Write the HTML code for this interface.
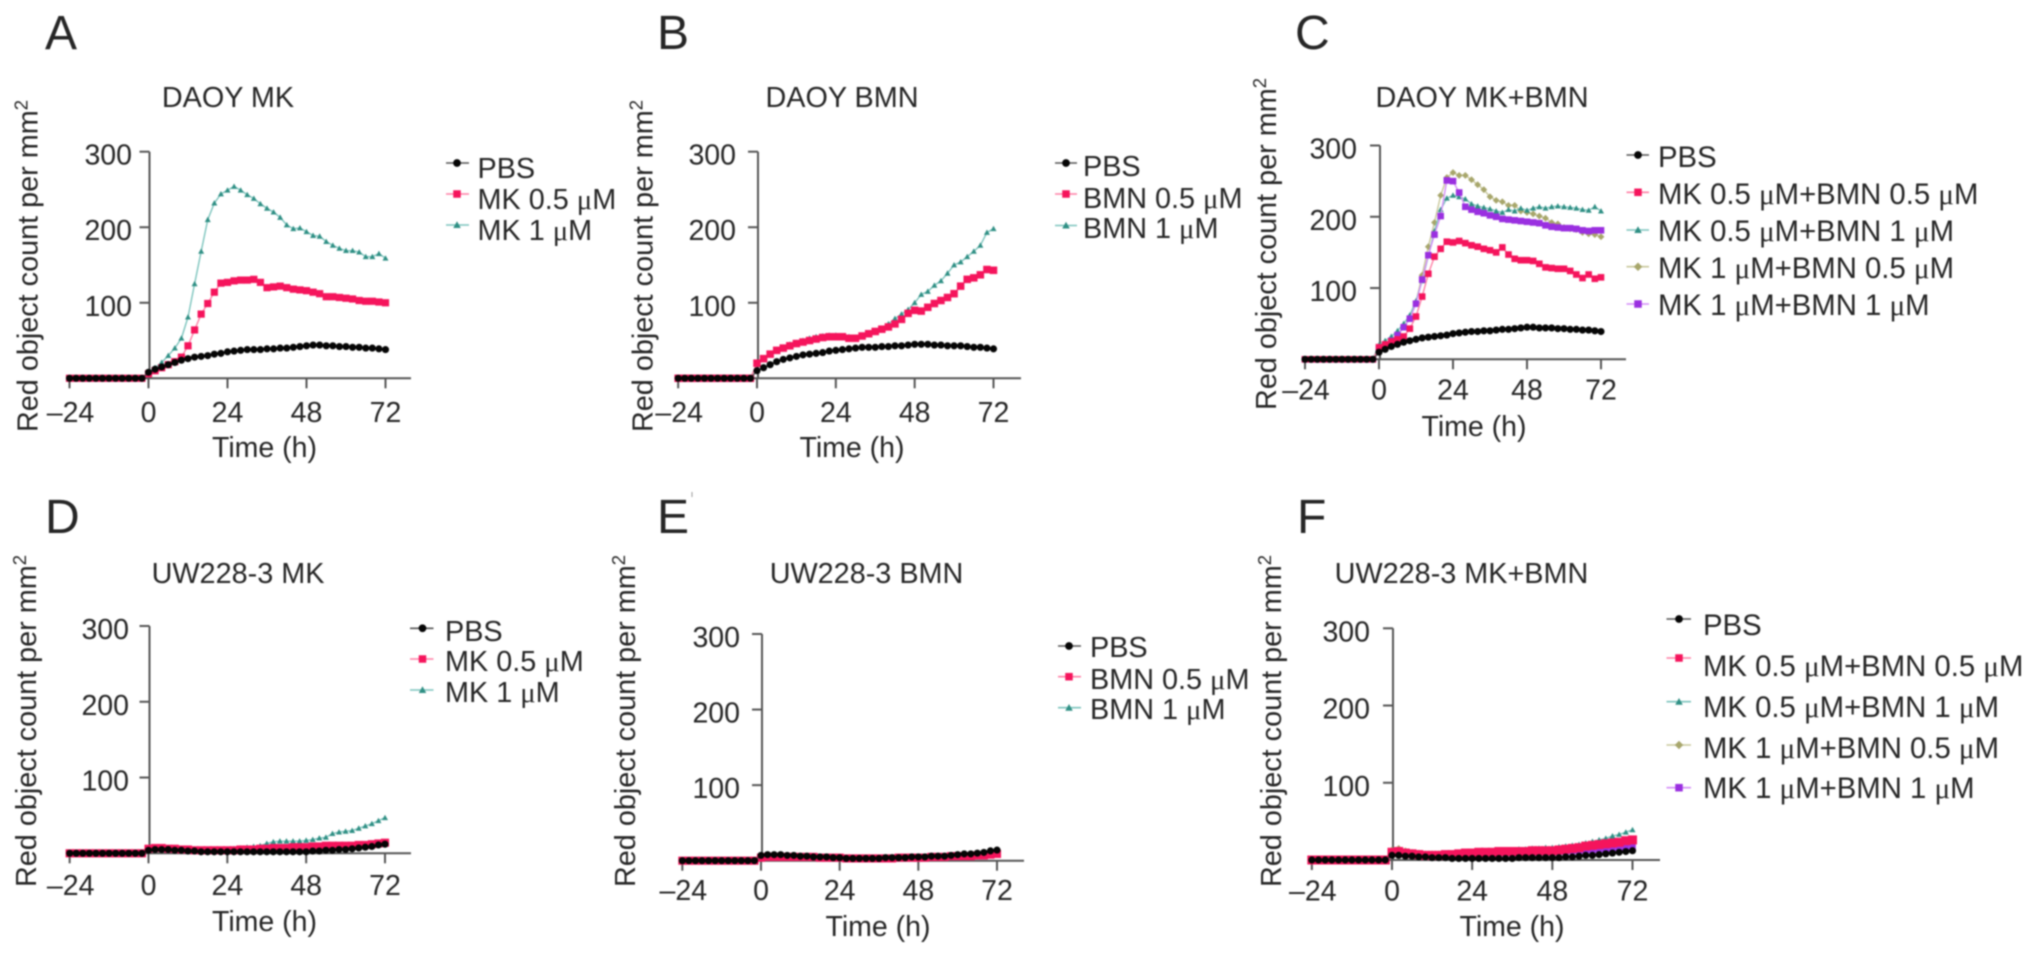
<!DOCTYPE html>
<html lang="en">
<head>
<meta charset="utf-8">
<title>Red object count panels</title>
<style>
html,body{margin:0;padding:0;background:#fff;width:2032px;height:955px;overflow:hidden}
svg{display:block;filter:blur(0.8px)}
text{font-family:"Liberation Sans",sans-serif;fill:#262626}
</style>
</head>
<body>
<svg id="figure" xmlns="http://www.w3.org/2000/svg" width="2032" height="955" viewBox="0 0 2032 955"></svg>
<script>
const hours = [-24,-22,-20,-18,-16,-14,-12,-10,-8,-6,-4,-2,0,2,4,6,8,10,12,14,16,18,20,22,24,26,28,30,32,34,36,38,40,42,44,46,48,50,52,54,56,58,60,62,64,66,68,70,72];
const xTickValues = [-24,0,24,48,72];
const yTickValues = [100,200,300];

const aPbs = [0,0,0,0,0,0,0,0,0,0,0,0,8,12,15,18,21,24,26,28,29,30,32,33,35,36,37,38,38,38,39,39,40,40,41,42,43,44,44,43,43,42,42,41,41,40,40,39,38];
const aMk05 = [0,0,0,0,0,0,0,0,0,0,0,0,6,10,14,18,22,28,43,64,85,99,114,126,127,129,130,130,131,127,120,121,122,120,118,117,116,114,112,108,108,107,106,105,103,102,102,101,100];
const aMk1 = [0,0,0,0,0,0,0,0,0,0,0,0,8,14,21,30,40,53,81,125,168,210,232,244,249,254,249,243,238,231,225,220,213,203,198,199,194,189,188,181,176,172,169,169,167,161,161,165,159];

const bPbs = [0,0,0,0,0,0,0,0,0,0,0,0,10,14,18,22,25,27,29,31,32,33,34,36,37,38,39,40,41,41,41,42,42,43,43,44,45,45,45,44,44,43,43,43,42,41,41,40,39];
const bBmn05 = [0,0,0,0,0,0,0,0,0,0,0,0,20,26,32,37,40,43,46,48,50,52,54,55,55,55,53,53,56,59,62,65,68,72,78,86,90,89,94,99,103,107,112,122,131,133,137,144,143];
const bBmn1 = [0,0,0,0,0,0,0,0,0,0,0,0,19,25,31,37,41,45,47,50,53,55,56,57,57,56,55,54,57,60,63,66,72,79,85,91,100,111,115,123,129,139,150,154,161,168,176,193,198];

const cPbs = [0,0,0,0,0,0,0,0,0,0,0,0,10,14,18,21,24,26,28,30,31,32,33,34,36,37,38,39,39,40,40,41,42,42,43,44,45,45,44,44,44,43,43,42,42,41,41,40,39];
const cMk05Bmn05 = [0,0,0,0,0,0,0,0,0,0,0,0,17,21,25,28,32,43,60,88,120,144,155,165,164,166,163,160,158,155,153,150,157,147,141,139,139,138,134,129,128,127,127,124,119,114,119,113,115];
const cMk05Bmn1 = [0,0,0,0,0,0,0,0,0,0,0,0,20,26,32,40,50,62,82,110,145,180,210,226,230,228,225,218,215,213,211,208,206,210,208,212,209,212,214,212,214,215,214,213,212,210,209,214,208];
const cMk1Bmn05 = [0,0,0,0,0,0,0,0,0,0,0,0,15,20,26,34,45,58,80,118,158,192,230,255,262,258,258,252,245,238,228,223,221,216,216,208,206,204,201,198,192,190,185,183,182,178,176,175,172];
const cMk1Bmn1 = [0,0,0,0,0,0,0,0,0,0,0,0,15,20,26,34,45,57,78,112,146,175,201,251,250,234,214,210,207,205,202,200,197,196,195,194,193,192,191,188,186,185,184,184,183,181,180,181,181];

const dPbs = [0,0,0,0,0,0,0,0,0,0,0,0,4,5,5,5,4,4,3,3,2,2,2,2,2,2,2,2,2,2,2,2,2,2,2,2,2,3,3,4,4,5,5,6,7,8,9,11,12];
const dMk05 = [0,0,0,0,0,0,0,0,0,0,0,0,6,7,7,6,6,5,5,4,4,4,4,4,4,4,5,5,5,6,6,7,7,7,8,8,8,9,9,10,10,10,10,10,11,11,12,13,14];
const dMk1 = [0,0,0,0,0,0,0,0,0,0,0,0,5,6,6,5,5,5,4,4,4,4,4,5,5,6,7,8,9,10,13,15,16,16,16,16,17,18,20,21,26,28,29,30,33,36,39,43,47];

const ePbs = [0,0,0,0,0,0,0,0,0,0,0,0,7,8,8,8,7,7,6,6,5,5,5,4,4,3,3,3,3,3,3,4,4,4,4,5,5,5,6,6,6,7,8,9,9,10,11,13,14];
const eBmn05 = [0,0,0,0,0,0,0,0,0,0,0,0,4,5,5,5,5,5,5,5,5,4,4,4,4,3,3,3,3,3,3,3,3,4,4,4,4,4,5,5,5,6,6,6,6,7,7,8,9];
const eBmn1 = [0,0,0,0,0,0,0,0,0,0,0,0,4,5,4,4,4,4,4,4,4,4,4,3,3,3,3,3,3,3,3,3,3,3,4,4,4,4,4,4,5,5,5,5,6,6,6,7,8];

const fPbs = [0,0,0,0,0,0,0,0,0,0,0,0,6,6,5,5,4,4,3,3,3,2,2,2,2,2,2,2,2,2,2,3,3,3,3,3,3,3,4,4,5,6,6,7,8,9,10,11,12];
const fMk05Bmn05 = [0,0,0,0,0,0,0,0,0,0,0,0,10,11,9,8,7,6,6,6,7,7,8,9,9,10,10,10,11,11,11,11,11,12,12,12,12,13,14,15,16,18,19,20,21,22,23,25,26];
const fMk05Bmn1 = [0,0,0,0,0,0,0,0,0,0,0,0,10,11,10,9,8,7,7,7,8,8,9,10,11,11,12,12,13,13,13,14,14,15,15,16,16,17,18,19,20,22,24,26,28,31,33,36,39];
const fMk1Bmn05 = [0,0,0,0,0,0,0,0,0,0,0,0,13,15,12,10,9,8,8,8,8,8,9,9,9,10,10,10,10,10,10,11,11,11,11,11,11,12,12,13,13,14,14,15,15,16,17,19,20];
const fMk1Bmn1 = [0,0,0,0,0,0,0,0,0,0,0,0,9,10,9,8,7,6,6,6,6,7,7,8,8,8,9,9,9,9,9,10,10,10,10,10,10,11,11,12,12,13,13,14,14,15,16,17,18];

const PBS = {key:'pbs',color:'#050505',line:'#555555',shape:'circle',k:1.15};
const PINK = {key:'pink',color:'#f5145c',line:'#ff7fa5',shape:'square',k:1.15};
const TEAL = {key:'teal',color:'#2f8f84',line:'#7cc4bd',shape:'triangle',k:1};
const OLIVE = {key:'olive',color:'#a7a66b',line:'#c8c79a',shape:'diamond',k:1};
const PURPLE = {key:'purple',color:'#9a2fe0',line:'#d48cf8',shape:'square',k:1.1};

const panels = [
 {id:'a',letter:'A',lx:45,ly:49,title:'DAOY MK',tx:228,ty:107,x0:148.5,x72:385.5,y0:378.3,y300:151.7,xEnd:411,yLabelX:132,xLabelY:422,timeX:264.5,timeY:457,yTitleX:37.5,yTitleY:432,pinkK:1.2,
  series:[{s:TEAL,v:aMk1},{s:PINK,v:aMk05},{s:PBS,v:aPbs}],
  legend:{mx:457,l1:446,l2:469,tx:477.5,fs:28.8,rows:[[PBS,'PBS',163,178],[PINK,'MK 0.5 μM',194,209],[TEAL,'MK 1 μM',225,240]]}},
 {id:'b',letter:'B',lx:657,ly:49,title:'DAOY BMN',tx:842,ty:107,x0:757,x72:993.5,y0:378.3,y300:151.7,xEnd:1021,yLabelX:736,xLabelY:422,timeX:852,timeY:457,yTitleX:652.5,yTitleY:432,pinkK:1.25,
  series:[{s:TEAL,v:bBmn1},{s:PINK,v:bBmn05},{s:PBS,v:bPbs}],
  legend:{mx:1066,l1:1055,l2:1077,tx:1083,fs:28.8,rows:[[PBS,'PBS',163,176],[PINK,'BMN 0.5 μM',194,208],[TEAL,'BMN 1 μM',225.5,238]]}},
 {id:'c',letter:'C',lx:1295,ly:49,title:'DAOY MK+BMN',tx:1482,ty:107,x0:1379,x72:1601,y0:359.3,y300:145.5,xEnd:1626,yLabelX:1357,xLabelY:399.5,timeX:1474,timeY:436,yTitleX:1276,yTitleY:410,pinkK:1.1,
  series:[{s:OLIVE,v:cMk1Bmn05},{s:TEAL,v:cMk05Bmn1},{s:PURPLE,v:cMk1Bmn1},{s:PINK,v:cMk05Bmn05},{s:PBS,v:cPbs}],
  legend:{mx:1638,l1:1626.5,l2:1649,tx:1658,fs:29.3,rows:[[PBS,'PBS',155,167],[PINK,'MK 0.5 μM+BMN 0.5 μM',192.3,204],[TEAL,'MK 0.5 μM+BMN 1 μM',230,241],[OLIVE,'MK 1 μM+BMN 0.5 μM',266.7,278],[PURPLE,'MK 1 μM+BMN 1 μM',304,315]]}},
 {id:'d',letter:'D',lx:45,ly:533,title:'UW228-3 MK',tx:238,ty:583,x0:148.5,x72:385,y0:853.3,y300:626,xEnd:411,yLabelX:129,xLabelY:895,timeX:264.5,timeY:931,yTitleX:36,yTitleY:887,pinkK:1.35,
  series:[{s:TEAL,v:dMk1},{s:PINK,v:dMk05},{s:PBS,v:dPbs}],
  legend:{mx:422.5,l1:410,l2:433.5,tx:445,fs:28.8,rows:[[PBS,'PBS',628.3,641],[PINK,'MK 0.5 μM',659,671],[TEAL,'MK 1 μM',690,702]]}},
 {id:'e',letter:'E',lx:657,ly:533,title:'UW228-3 BMN',tx:866.5,ty:583,x0:761,x72:997,y0:860.7,y300:634,xEnd:1024,yLabelX:740,xLabelY:900,timeX:878,timeY:936,yTitleX:635,yTitleY:887,pinkK:1.35,
  series:[{s:TEAL,v:eBmn1},{s:PINK,v:eBmn05},{s:PBS,v:ePbs}],
  legend:{mx:1069,l1:1058,l2:1081,tx:1090,fs:28.8,rows:[[PBS,'PBS',646,657],[PINK,'BMN 0.5 μM',676.7,689],[TEAL,'BMN 1 μM',707.7,719]]}},
 {id:'f',letter:'F',lx:1297,ly:533,title:'UW228-3 MK+BMN',tx:1461.5,ty:583,x0:1392,x72:1632.5,y0:860,y300:628.3,xEnd:1660,yLabelX:1370,xLabelY:900.5,timeX:1512,timeY:936,yTitleX:1281,yTitleY:887,pinkK:1.5,
  series:[{s:OLIVE,v:fMk1Bmn05},{s:TEAL,v:fMk05Bmn1},{s:PURPLE,v:fMk1Bmn1},{s:PINK,v:fMk05Bmn05},{s:PBS,v:fPbs}],
  legend:{mx:1679,l1:1666.5,l2:1691,tx:1703,fs:29.3,rows:[[PBS,'PBS',619,635],[PINK,'MK 0.5 μM+BMN 0.5 μM',658,676],[TEAL,'MK 0.5 μM+BMN 1 μM',701.7,717],[OLIVE,'MK 1 μM+BMN 0.5 μM',745,758],[PURPLE,'MK 1 μM+BMN 1 μM',787.7,798]]}}
];

const NS = 'http://www.w3.org/2000/svg';
const root = document.getElementById('figure');
function make(tag, parent){
  const el = document.createElementNS(NS, tag);
  parent.appendChild(el);
  return el;
}
function seg(parent, x1, y1, x2, y2, color, width){
  const el = make('line', parent);
  el.setAttribute('x1', x1); el.setAttribute('y1', y1);
  el.setAttribute('x2', x2); el.setAttribute('y2', y2);
  el.setAttribute('stroke', color); el.setAttribute('stroke-width', width);
  return el;
}
function txt(parent, content, x, y, size, anchor){
  const el = make('text', parent);
  el.setAttribute('x', x); el.setAttribute('y', y);
  el.setAttribute('font-size', size);
  if (anchor) el.setAttribute('text-anchor', anchor);
  el.textContent = content;
  return el;
}
function marker(parent, style, x, y, k){
  let el;
  if (style.shape === 'circle'){
    el = make('circle', parent);
    el.setAttribute('cx', x); el.setAttribute('cy', y); el.setAttribute('r', 3.1*k);
  } else if (style.shape === 'square'){
    el = make('rect', parent);
    const s = 3*k;
    el.setAttribute('x', x-s); el.setAttribute('y', y-s);
    el.setAttribute('width', 2*s); el.setAttribute('height', 2*s);
  } else if (style.shape === 'triangle'){
    el = make('polygon', parent);
    const s = 3*k;
    el.setAttribute('points', `${x},${y-s} ${x+s},${y+s*0.8} ${x-s},${y+s*0.8}`);
  } else {
    el = make('polygon', parent);
    const s = 3.4*k;
    el.setAttribute('points', `${x},${y-s} ${x+s},${y} ${x},${y+s} ${x-s},${y}`);
  }
  el.setAttribute('fill', style.color);
  return el;
}
function drawPanel(p){
  const xScale = h => p.x0 + h*(p.x72-p.x0)/72;
  const yScale = v => p.y0 - v*(p.y0-p.y300)/300;
  const g = make('g', root);
  
  

  const letter = txt(g, p.letter, p.lx, p.ly, 48);
  letter.setAttribute('fill', '#111');
  
  

  const title = txt(g, p.title, p.tx, p.ty, 28.8, 'middle');
  
  

  const yTitle = make('text', g);
  yTitle.setAttribute('transform', `translate(${p.yTitleX},${p.yTitleY}) rotate(-90)`);
  yTitle.setAttribute('font-size', 28.8);
  
  
  yTitle.textContent = 'Red object count per mm';
  const sup = make('tspan', yTitle);
  sup.setAttribute('font-size', 18.5);
  sup.setAttribute('dy', -10);
  sup.textContent = '2';

  const xAxis = seg(g, xScale(-24)-2, p.y0, p.xEnd, p.y0, '#555', 2);
  
  
  const yAxis = seg(g, p.x0+1, p.y300, p.x0+1, p.y0, '#555', 2);
  
  

  xTickValues.forEach(v => {
    const t = seg(g, xScale(v), p.y0, xScale(v), p.y0+10, '#555', 2);
    
    
    const label = txt(g, v < 0 ? '–' + Math.abs(v) : String(v), xScale(v)+(v<0?1:0), p.xLabelY, 28.5, 'middle');
    
    
  });
  yTickValues.forEach(v => {
    const t = seg(g, p.x0-9, yScale(v), p.x0+1, yScale(v), '#555', 2);
    
    
    const label = txt(g, String(v), p.yLabelX, yScale(v)+13, 28.5, 'end');
    
    
  });

  const xLabel = txt(g, 'Time (h)', p.timeX, p.timeY, 28.5, 'middle');
  
  

  p.series.forEach(entry => {
    const sg = make('g', g);
    
    
    const path = make('polyline', sg);
    path.setAttribute('fill', 'none');
    path.setAttribute('stroke', entry.s.line);
    path.setAttribute('stroke-width', 1.4);
    path.setAttribute('points', entry.v.map((v,i) => xScale(hours[i]) + ',' + yScale(v)).join(' '));
    
    
    const scale = entry.s.key === 'pink' ? p.pinkK : entry.s.k;
    entry.v.forEach((v,i) => {
      const m = marker(sg, entry.s, xScale(hours[i]), yScale(v), scale);
      
      
    });
  });

  const lg = make('g', g);
  
  
  p.legend.rows.forEach(row => {
    const e = make('g', lg);
    
    
    seg(e, p.legend.l1, row[2], p.legend.l2, row[2], row[0].line, 1.6);
    marker(e, row[0], p.legend.mx, row[2], 1.25);
    const label = make('text', e);
    label.setAttribute('x', p.legend.tx);
    label.setAttribute('y', row[3]);
    label.setAttribute('font-size', p.legend.fs);
    row[1].split('μ').forEach((part, i) => {
      if (i > 0){
        const mu = make('tspan', label);
        mu.setAttribute('font-family', '"Liberation Serif",serif');
        mu.textContent = 'μ';
      }
      label.appendChild(document.createTextNode(part));
    });
  });
}
panels.forEach(drawPanel);
const speck = seg(root, 692, 492, 692, 497, '#999', 1);


</script>
</body>
</html>
